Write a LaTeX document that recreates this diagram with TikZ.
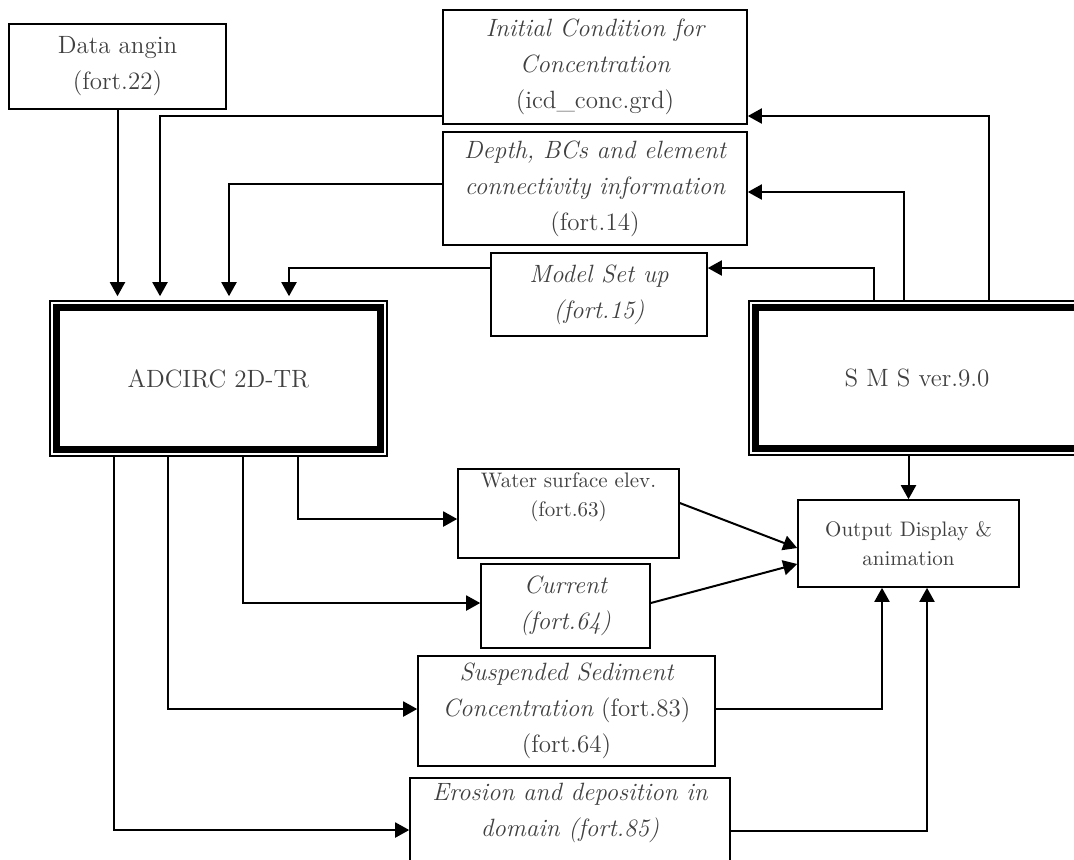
\documentclass[tikz,border=0pt]{standalone}
\usetikzlibrary{arrows.meta}
\definecolor{inkgray}{HTML}{404040}
\tikzset{
  box/.style={draw,line width=0.8pt,align=center,inner sep=2pt,text=inkgray,font=\fontsize{12.5}{18}\selectfont},
  smallbox/.style={box,font=\fontsize{10.5}{14.5}\selectfont},
  wire/.style={line width=1pt},
  arr/.style={wire,-{Triangle[length=7pt,width=7.5pt]}},
}
\begin{document}
\begin{tikzpicture}[x=0.5pt,y=-0.5pt]
\useasboundingbox (0,0) rectangle (1074,859);
% input files
\node[box,minimum width=108.5pt,minimum height=42.5pt] (wind) at (117.5,66.5) {Data angin\\(fort.22)};
\node[box,minimum width=152pt,minimum height=57pt] (icd) at (595,67) {\itshape Initial Condition for\\\itshape Concentration\\(icd\_conc.grd)};
\node[box,minimum width=152pt,minimum height=56.5pt] (depth) at (595,188.5) {\itshape Depth, BCs and element\\\itshape connectivity information\\(fort.14)};
\node[box,minimum width=108pt,minimum height=41.5pt] (setup) at (599,294.5) {\itshape Model Set up\\\itshape (fort.15)};
% models
\node[box,minimum width=168.5pt,minimum height=77.5pt] (adcirc) at (218.5,378.5) {ADCIRC 2D-TR};
\node[box,minimum width=168pt,minimum height=77pt] (sms) at (917,378) {S M S ver.9.0};
\foreach \bx in {adcirc,sms}
  \draw[line width=3.5pt] ([shift={(7.5,7.5)}]\bx.north west) rectangle ([shift={(-7.5,-7.5)}]\bx.south east);
% output files
\node[smallbox,minimum width=110.5pt,minimum height=43.5pt] (water) at (568.5,513.5) {Water surface elev.\\(fort.63)\\\strut};
\node[box,minimum width=84.5pt,minimum height=42pt] (current) at (565.5,606) {\itshape Current\\\itshape (fort.64)};
\node[box,minimum width=148.5pt,minimum height=55pt] (susp) at (566.5,711) {\itshape Suspended Sediment\\{\itshape Concentration} (fort.83)\\(fort.64)};
\node[box,minimum width=160pt,minimum height=55pt] (erosion) at (570,833) {\itshape Erosion and deposition in\\\itshape domain (fort.85)\\\strut};
\node[smallbox,minimum width=110.5pt,minimum height=43.5pt] (output) at (908.5,543.5) {Output Display \&\\animation};

% into ADCIRC
\draw[arr,shorten >=2pt] (wind.south) -- (wind.south |- adcirc.north);
\draw[arr,shorten >=2pt] (icd.west |- 0,116) -| (adcirc.north -| 160,0);
\draw[arr,shorten >=2pt] (depth.west |- 0,184) -| (adcirc.north -| 229,0);
\draw[arr,shorten >=2pt] (setup.west |- 0,268) -| (adcirc.north -| 289,0);
% from SMS
\draw[arr] (sms.north -| 989,0) |- (icd.east |- 0,116);
\draw[arr] (sms.north -| 904,0) |- (depth.east |- 0,192);
\draw[arr] (sms.north -| 874,0) |- (setup.east |- 0,268);
\draw[arr] (output.north |- sms.south) -- (output.north);
% from ADCIRC
\draw[arr] (adcirc.south -| 298,0) |- (water.west |- 0,519);
\draw[arr] (adcirc.south -| 243,0) |- (current.west |- 0,603);
\draw[arr] (adcirc.south -| 168,0) |- (susp.west |- 0,709);
\draw[arr] (adcirc.south -| 114,0) |- (erosion.west |- 0,830);
% to display
\draw[arr] (water.east |- 0,503) -- (output.west |- 0,548);
\draw[arr] (current.east |- 0,603) -- (output.west |- 0,564);
\draw[arr] (susp.east |- 0,709) -| (output.south -| 882,0);
\draw[arr] (erosion.east |- 0,831) -| (output.south -| 927,0);
\end{tikzpicture}
\end{document}
